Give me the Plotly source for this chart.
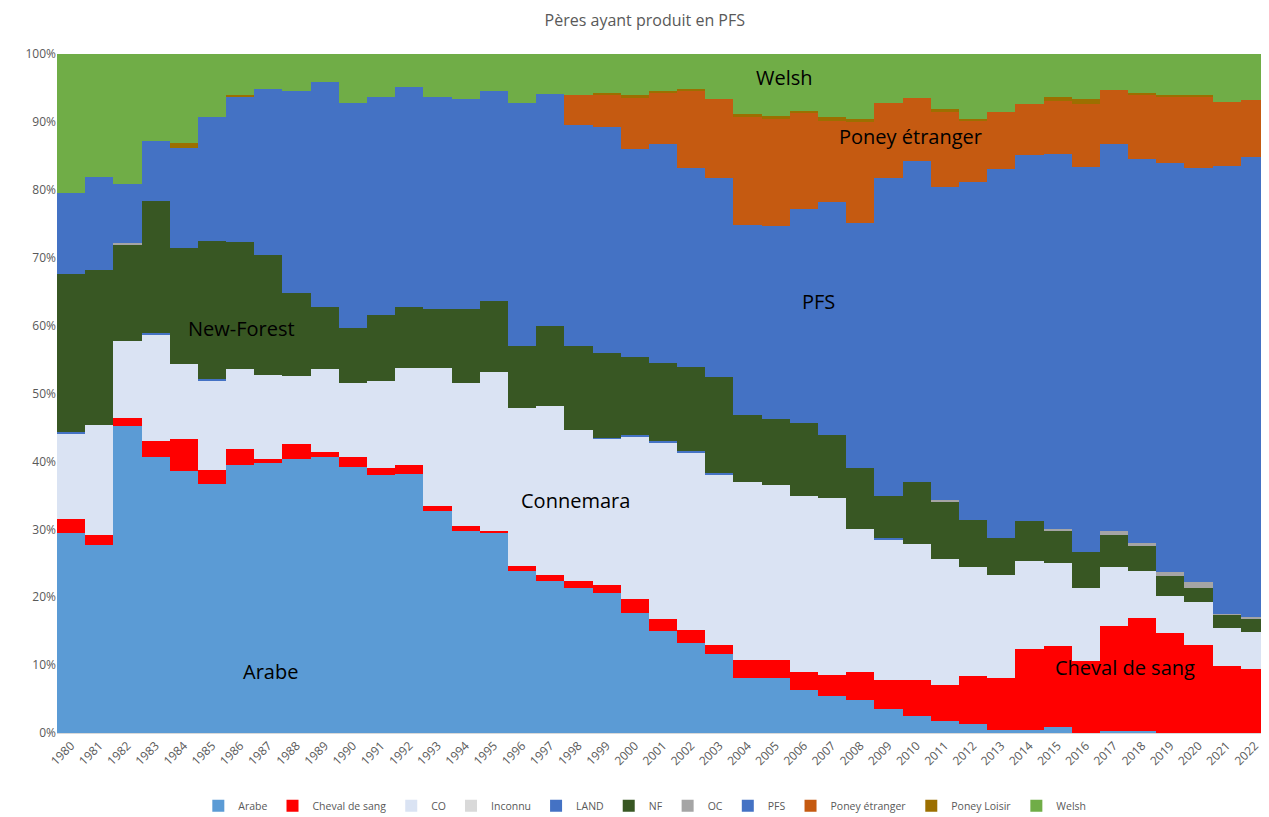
import plotly.graph_objects as go

years = [str(y) for y in range(1980, 2023)]

arabe = [29.4, 27.7, 45.2, 40.7, 38.6, 36.6, 39.5, 39.8, 40.4, 40.7, 39.2, 38.0, 38.1, 32.7, 29.7, 29.4,
         23.9, 22.4, 21.3, 20.6, 17.7, 15.0, 13.2, 11.7, 8.1, 8.1, 6.3, 5.4, 4.8, 3.5, 2.5, 1.7, 1.3, 0.4,
         0.5, 0.9, 0.0, 0.3, 0.3, 0.0, 0.0, 0.0, 0.0]
cheval_de_sang = [2.1, 1.4, 1.2, 2.3, 4.7, 2.1, 2.4, 0.6, 2.2, 0.7, 1.5, 1.0, 1.4, 0.7, 0.8, 0.4,
                  0.7, 0.8, 1.1, 1.2, 2.1, 1.8, 1.9, 1.3, 2.7, 2.7, 2.7, 3.1, 4.2, 4.3, 5.3, 5.4, 7.1, 7.7,
                  11.8, 11.9, 10.6, 15.4, 16.7, 14.8, 12.9, 9.9, 9.4]
co = [12.6, 16.2, 11.3, 15.7, 11.0, 13.1, 11.7, 12.3, 10.0, 12.2, 10.9, 12.8, 14.3, 20.3, 21.0, 23.4,
      23.2, 24.9, 22.2, 21.5, 23.9, 25.9, 26.2, 25.1, 26.1, 25.7, 25.9, 26.1, 21.1, 20.7, 20.1, 18.5, 16.0, 15.2,
      13.0, 12.3, 10.7, 8.7, 6.9, 5.4, 6.4, 5.5, 5.5]
inconnu = [0.0] * 43
land = [0.3, 0.0, 0.0, 0.2, 0.0, 0.4, 0.0, 0.0, 0.0, 0.0, 0.0, 0.0, 0.0, 0.0, 0.0, 0.0,
        0.0, 0.0, 0.0, 0.2, 0.2, 0.3, 0.2, 0.2, 0.0, 0.0, 0.0, 0.0, 0.0, 0.2, 0.0, 0.0, 0.0, 0.0,
        0.0, 0.0, 0.0, 0.0, 0.0, 0.0, 0.0, 0.0, 0.0]
nf = [23.2, 22.9, 14.1, 19.5, 17.2, 20.2, 18.7, 17.7, 12.2, 9.1, 8.1, 9.7, 9.0, 8.8, 11.0, 10.4,
      9.2, 11.8, 12.4, 12.4, 11.5, 11.5, 12.4, 14.2, 9.9, 9.7, 10.7, 9.3, 9.0, 6.2, 9.0, 8.4, 6.9, 5.4,
      5.9, 4.7, 5.3, 4.8, 3.6, 2.9, 2.0, 2.0, 1.9]
oc = [0.0, 0.0, 0.3, 0.0, 0.0, 0.0, 0.0, 0.0, 0.0, 0.0, 0.0, 0.0, 0.0, 0.0, 0.0, 0.0,
      0.0, 0.0, 0.0, 0.0, 0.0, 0.0, 0.0, 0.0, 0.0, 0.0, 0.0, 0.0, 0.0, 0.0, 0.0, 0.3, 0.0, 0.0,
      0.0, 0.2, 0.0, 0.6, 0.5, 0.6, 0.9, 0.2, 0.3]
pfs = [11.9, 13.7, 8.8, 8.8, 14.7, 18.3, 21.4, 24.4, 29.8, 33.2, 33.1, 32.1, 32.3, 31.1, 30.8, 30.9,
       35.8, 34.2, 32.5, 33.3, 30.6, 32.3, 29.3, 29.3, 28.0, 28.4, 31.5, 34.3, 36.0, 46.8, 47.4, 46.1, 49.9, 54.3,
       53.9, 55.3, 56.8, 57.0, 56.5, 60.2, 61.0, 65.9, 67.8]
poney_etranger = [0.0, 0.0, 0.0, 0.0, 0.0, 0.0, 0.0, 0.0, 0.0, 0.0, 0.0, 0.0, 0.0, 0.0, 0.0, 0.0,
                  0.0, 0.0, 4.5, 4.8, 7.5, 7.4, 11.3, 11.5, 15.9, 15.9, 14.3, 12.0, 14.9, 11.1, 9.2, 11.1, 8.9, 8.5,
                  7.5, 7.8, 9.2, 7.9, 9.5, 9.8, 10.5, 9.4, 8.3]
poney_loisir = [0.0, 0.0, 0.0, 0.0, 0.7, 0.0, 0.2, 0.0, 0.0, 0.0, 0.0, 0.0, 0.0, 0.0, 0.0, 0.0,
                0.0, 0.0, 0.0, 0.3, 0.4, 0.3, 0.3, 0.0, 0.5, 0.4, 0.2, 0.5, 0.5, 0.0, 0.0, 0.4, 0.3, 0.0,
                0.0, 0.6, 0.7, 0.0, 0.3, 0.3, 0.3, 0.0, 0.0]
welsh = [20.5, 18.1, 19.1, 12.8, 13.1, 9.3, 6.1, 5.2, 5.4, 4.1, 7.2, 6.4, 4.9, 6.4, 6.7, 5.5,
         7.2, 5.9, 6.0, 5.7, 6.1, 5.5, 5.2, 6.7, 8.8, 9.1, 8.4, 9.3, 9.5, 7.2, 6.5, 8.1, 9.6, 8.5,
         7.4, 6.3, 6.7, 5.3, 5.7, 6.0, 6.0, 7.1, 6.8]

y_ticks = list(range(0, 101, 10))
y_tick_labels = [f"{v}%" for v in y_ticks]

series = [
    ("Arabe", arabe, "#5B9BD5"),
    ("Cheval de sang", cheval_de_sang, "#FF0000"),
    ("CO", co, "#DAE3F3"),
    ("Inconnu", inconnu, "#D9D9D9"),
    ("LAND", land, "#4472C4"),
    ("NF", nf, "#385723"),
    ("OC", oc, "#A5A5A5"),
    ("PFS", pfs, "#4472C4"),
    ("Poney étranger", poney_etranger, "#C55A11"),
    ("Poney Loisir", poney_loisir, "#9C6F00"),
    ("Welsh", welsh, "#70AD47"),
]

FONT = "Open Sans, Liberation Sans, sans-serif"

fig = go.Figure()
for name, vals, color in series:
    fig.add_trace(go.Bar(
        x=years, y=vals, name=name,
        marker=dict(color=color, line=dict(width=0)),
    ))

labels = [
    ("Welsh", 0.600, 0.965),
    ("Poney étranger", 0.704, 0.878),
    ("PFS", 0.628, 0.635),
    ("New-Forest", 0.152, 0.596),
    ("Connemara", 0.428, 0.343),
    ("Arabe", 0.176, 0.091),
    ("Cheval de sang", 0.881, 0.096),
]
for text, x, y in labels:
    fig.add_annotation(text=text, x=x, y=y, xref="paper", yref="paper",
                       xanchor="center", yanchor="middle",
                       showarrow=False, font=dict(size=20, color="#000000", family=FONT))

# page body has an 8px margin, so the figure is sized to fill the remaining viewport
fig.update_layout(
    width=1261, height=809,
    barmode="stack", bargap=0,
    paper_bgcolor="white", plot_bgcolor="white",
    margin=dict(l=49, r=0, t=46, b=84, autoexpand=False),
    title=dict(text="Pères ayant produit en PFS", x=0.505, xanchor="center", y=0.985, yanchor="middle",
               font=dict(size=16, color="#595959", family=FONT)),
    font=dict(family=FONT, color="#595959", size=12),
    legend=dict(orientation="h", x=0.485, xanchor="center", y=-0.107, yanchor="middle",
                font=dict(size=10.5, color="#595959"), itemwidth=30, traceorder="normal"),
    showlegend=True,
)
fig.update_xaxes(type="category", tickangle=-45, showgrid=False, showline=True, automargin=False,
                 linecolor="#D9D9D9", ticks="", tickfont=dict(size=12, color="#595959"))
fig.update_yaxes(range=[0, 100], tickvals=y_ticks, ticktext=y_tick_labels, automargin=False,
                 showgrid=True, gridcolor="#D9D9D9", zeroline=False, showline=False,
                 tickfont=dict(size=12, color="#595959"))

fig.write_html("out.html")
